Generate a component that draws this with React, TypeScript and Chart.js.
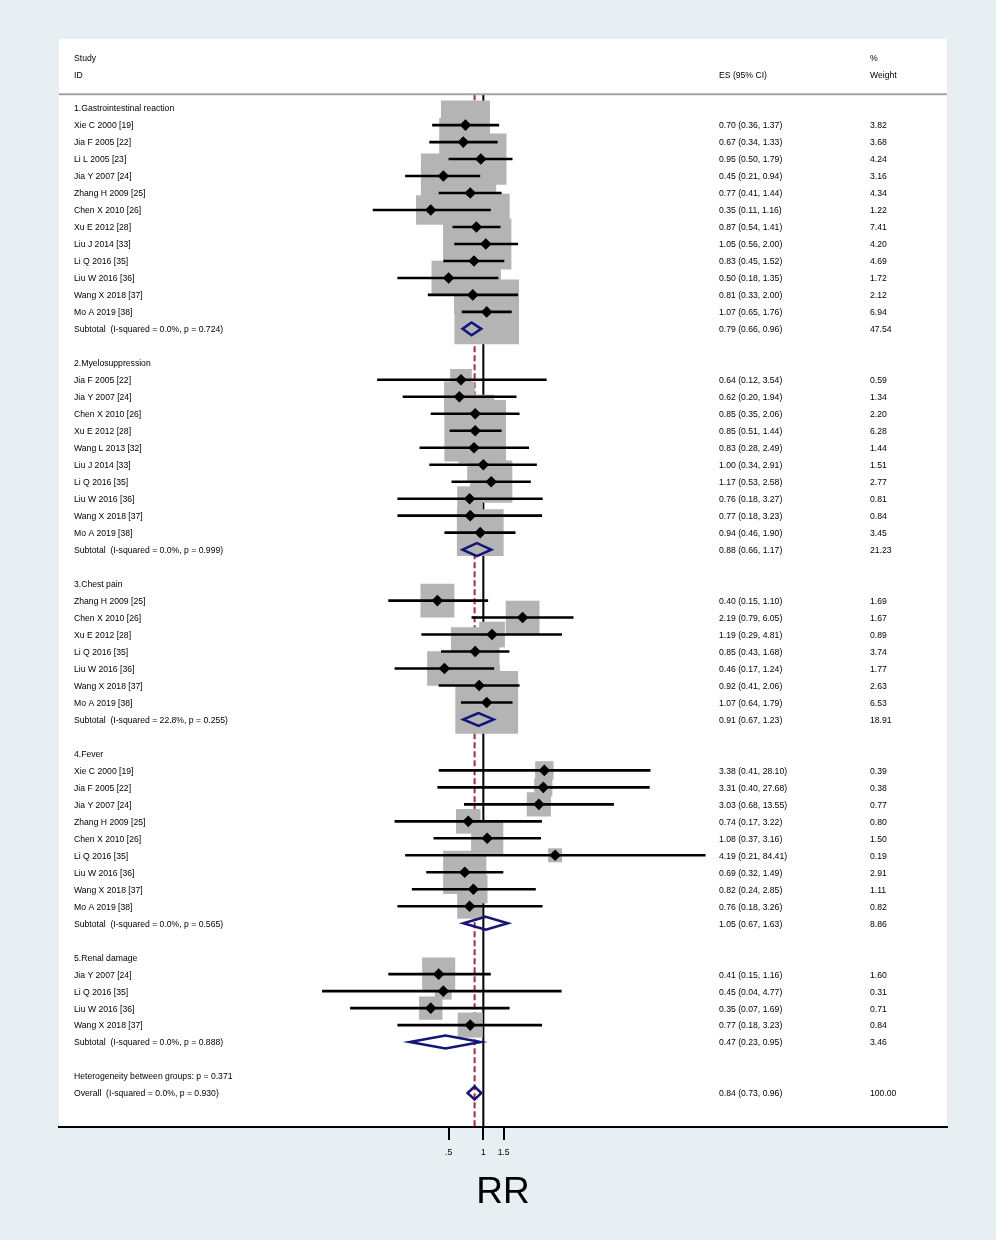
import React, { useEffect, useRef } from "react";
import { Chart, registerables } from "chart.js";

Chart.register(...registerables);

// ---------------- data ----------------
const groupNames = [
  "1.Gastrointestinal reaction",
  "2.Myelosuppression",
  "3.Chest pain",
  "4.Fever",
  "5.Renal damage",
];

const studyNames = [
  "Xie C 2000 [19]", "Jia F 2005 [22]", "Li L 2005 [23]", "Jia Y 2007 [24]", "Zhang H 2009 [25]", "Chen X 2010 [26]",
  "Xu E 2012 [28]", "Liu J 2014 [33]", "Li Q 2016 [35]", "Liu W 2016 [36]", "Wang X 2018 [37]", "Mo A 2019 [38]",
  "Jia F 2005 [22]", "Jia Y 2007 [24]", "Chen X 2010 [26]", "Xu E 2012 [28]", "Wang L 2013 [32]", "Liu J 2014 [33]",
  "Li Q 2016 [35]", "Liu W 2016 [36]", "Wang X 2018 [37]", "Mo A 2019 [38]",
  "Zhang H 2009 [25]", "Chen X 2010 [26]", "Xu E 2012 [28]", "Li Q 2016 [35]", "Liu W 2016 [36]", "Wang X 2018 [37]", "Mo A 2019 [38]",
  "Xie C 2000 [19]", "Jia F 2005 [22]", "Jia Y 2007 [24]", "Zhang H 2009 [25]", "Chen X 2010 [26]", "Li Q 2016 [35]",
  "Liu W 2016 [36]", "Wang X 2018 [37]", "Mo A 2019 [38]",
  "Jia Y 2007 [24]", "Li Q 2016 [35]", "Liu W 2016 [36]", "Wang X 2018 [37]",
];

const studyGroup = [
  0, 0, 0, 0, 0, 0, 0, 0, 0, 0, 0, 0,
  1, 1, 1, 1, 1, 1, 1, 1, 1, 1,
  2, 2, 2, 2, 2, 2, 2,
  3, 3, 3, 3, 3, 3, 3, 3, 3,
  4, 4, 4, 4,
];

const studyES = [
  0.70, 0.67, 0.95, 0.45, 0.77, 0.35, 0.87, 1.05, 0.83, 0.50, 0.81, 1.07,
  0.64, 0.62, 0.85, 0.85, 0.83, 1.00, 1.17, 0.76, 0.77, 0.94,
  0.40, 2.19, 1.19, 0.85, 0.46, 0.92, 1.07,
  3.38, 3.31, 3.03, 0.74, 1.08, 4.19, 0.69, 0.82, 0.76,
  0.41, 0.45, 0.35, 0.77,
];

const studyLo = [
  0.36, 0.34, 0.50, 0.21, 0.41, 0.11, 0.54, 0.56, 0.45, 0.18, 0.33, 0.65,
  0.12, 0.20, 0.35, 0.51, 0.28, 0.34, 0.53, 0.18, 0.18, 0.46,
  0.15, 0.79, 0.29, 0.43, 0.17, 0.41, 0.64,
  0.41, 0.40, 0.68, 0.17, 0.37, 0.21, 0.32, 0.24, 0.18,
  0.15, 0.04, 0.07, 0.18,
];

const studyHi = [
  1.37, 1.33, 1.79, 0.94, 1.44, 1.16, 1.41, 2.00, 1.52, 1.35, 2.00, 1.76,
  3.54, 1.94, 2.06, 1.44, 2.49, 2.91, 2.58, 3.27, 3.23, 1.90,
  1.10, 6.05, 4.81, 1.68, 1.24, 2.06, 1.79,
  28.10, 27.68, 13.55, 3.22, 3.16, 84.41, 1.49, 2.85, 3.26,
  1.16, 4.77, 1.69, 3.23,
];

const studyWeight = [
  3.82, 3.68, 4.24, 3.16, 4.34, 1.22, 7.41, 4.20, 4.69, 1.72, 2.12, 6.94,
  0.59, 1.34, 2.20, 6.28, 1.44, 1.51, 2.77, 0.81, 0.84, 3.45,
  1.69, 1.67, 0.89, 3.74, 1.77, 2.63, 6.53,
  0.39, 0.38, 0.77, 0.80, 1.50, 0.19, 2.91, 1.11, 0.82,
  1.60, 0.31, 0.71, 0.84,
];

const subES = [0.79, 0.88, 0.91, 1.05, 0.47];
const subLo = [0.66, 0.66, 0.67, 0.67, 0.23];
const subHi = [0.96, 1.17, 1.23, 1.63, 0.95];
const subWeight = [47.54, 21.23, 18.91, 8.86, 3.46];
const subI2 = [0.0, 0.0, 22.8, 0.0, 0.0];
const subP = [0.724, 0.999, 0.255, 0.565, 0.888];

const heterogeneityP = 0.371;
const overallES = 0.84;
const overallLo = 0.73;
const overallHi = 0.96;
const overallI2 = 0.0;
const overallP = 0.93;
const overallWeight = 100.0;

const xTickValues = [0.5, 1, 1.5];
const xTickLabels = [".5", "1", "1.5"];
const xTitle = "RR";

// ---------------- styles / layout ----------------
const FONT = '"Liberation Sans", Arial, Helvetica, sans-serif';
const TEXT_SIZE = 8.65;
const TEXT_DY = 1;
const BG = "#e8eff2";
const BOX_COLOR = "#b4b4b4";
const NAVY = "#14147a";
const DASH_RED = "#a8283c";
const COL_STUDY = 74;
const COL_ES = 719;
const COL_W = 870;
const X_MIN = Math.exp(-8.47);
const X_MAX = Math.exp(9.255);
const Y_MIN = -4.07;
const HEADER_RULE = -0.82;
const DIAMOND_H = 0.38;

const boxSide = (w: number) => 4 + 23 * Math.sqrt(w);

// row assignment from data order
const studyRow: number[] = [];
const groupRow: number[] = [];
const subRow: number[] = [];
let rc = 0;
groupNames.forEach((_, gi) => {
  groupRow[gi] = rc++;
  studyNames.forEach((_, i) => {
    if (studyGroup[i] === gi) studyRow[i] = rc++;
  });
  subRow[gi] = rc++;
  rc++;
});
const hetRow = rc++;
const overallRow = rc++;
const Y_MAX = overallRow + 2;

const f2 = (v: number) => v.toFixed(2);
const esText = (e: number, l: number, h: number) => `${f2(e)} (${f2(l)}, ${f2(h)})`;

function diamond(es: number, lo: number, hi: number, row: number) {
  return [
    { x: lo, y: row },
    { x: es, y: row - DIAMOND_H },
    { x: hi, y: row },
    { x: es, y: row + DIAMOND_H },
    { x: lo, y: row },
    { x: es, y: row - DIAMOND_H },
  ];
}

export default function App() {
  const ref = useRef<HTMLCanvasElement | null>(null);

  useEffect(() => {
    if (!ref.current) return;

    const datasets: any[] = [];
    datasets.push({
      data: [{ x: 1, y: HEADER_RULE }, { x: 1, y: Y_MAX }],
      showLine: true, borderColor: "#000", borderWidth: 2, pointRadius: 0, order: 20,
    });
    datasets.push({
      data: [{ x: overallES, y: HEADER_RULE }, { x: overallES, y: Y_MAX }],
      showLine: true, borderColor: DASH_RED, borderWidth: 2, borderDash: [6, 3], pointRadius: 0, order: 19,
    });
    datasets.push({
      data: [{ x: X_MIN, y: HEADER_RULE }, { x: X_MAX, y: HEADER_RULE }],
      showLine: true, borderColor: "#a4a4a4", borderWidth: 2, pointRadius: 0, order: 18,
    });
    datasets.push({
      data: studyES.map((e, i) => ({ x: e, y: studyRow[i] })),
      pointStyle: "rect",
      pointRadius: (c: any) => boxSide(studyWeight[c.dataIndex]) / Math.SQRT2,
      backgroundColor: BOX_COLOR, borderWidth: 0, order: 17,
    });
    studyES.forEach((_, i) => {
      datasets.push({
        data: [{ x: studyLo[i], y: studyRow[i] }, { x: studyHi[i], y: studyRow[i] }],
        showLine: true, borderColor: "#000", borderWidth: 2.6, pointRadius: 0, order: 10,
      });
    });
    datasets.push({
      data: studyES.map((e, i) => ({ x: e, y: studyRow[i] })),
      pointStyle: "rectRot", pointRadius: 5.8, backgroundColor: "#000", borderWidth: 0, order: 5,
    });
    subES.forEach((e, gi) => {
      datasets.push({
        data: diamond(e, subLo[gi], subHi[gi], subRow[gi]),
        showLine: true, borderColor: NAVY, borderWidth: 2.5, borderJoinStyle: "miter",
        pointRadius: 0, fill: false, order: 2,
      });
    });
    datasets.push({
      data: diamond(overallES, overallLo, overallHi, overallRow),
      showLine: true, borderColor: NAVY, borderWidth: 2.5, borderJoinStyle: "miter",
      pointRadius: 0, fill: false, order: 1,
    });

    const bgPlugin = {
      id: "panelBg",
      beforeDraw(chart: any) {
        const { ctx, chartArea: a, width, height } = chart;
        ctx.save();
        ctx.fillStyle = BG;
        ctx.fillRect(0, 0, width, height);
        ctx.fillStyle = "#fff";
        ctx.fillRect(a.left, a.top, a.right - a.left, a.bottom - a.top);
        ctx.restore();
      },
    };

    const textPlugin = {
      id: "forestText",
      afterDraw(chart: any) {
        const { ctx } = chart;
        const ys = chart.scales.y;
        const Y = (r: number) => ys.getPixelForValue(r) + TEXT_DY;
        ctx.save();
        ctx.fillStyle = "#000";
        ctx.font = `${TEXT_SIZE}px ${FONT}`;
        ctx.textBaseline = "middle";
        ctx.textAlign = "left";
        const put = (t: string, x: number, r: number) => ctx.fillText(t, x, Y(r));
        put("Study", COL_STUDY, -3);
        put("ID", COL_STUDY, -2);
        put("ES (95% CI)", COL_ES, -2);
        put("%", COL_W, -3);
        put("Weight", COL_W, -2);
        groupNames.forEach((g, gi) => {
          put(g, COL_STUDY, groupRow[gi]);
          put(`Subtotal  (I-squared = ${subI2[gi].toFixed(1)}%, p = ${subP[gi].toFixed(3)})`, COL_STUDY, subRow[gi]);
          put(esText(subES[gi], subLo[gi], subHi[gi]), COL_ES, subRow[gi]);
          put(f2(subWeight[gi]), COL_W, subRow[gi]);
        });
        studyNames.forEach((n, i) => {
          put(n, COL_STUDY, studyRow[i]);
          put(esText(studyES[i], studyLo[i], studyHi[i]), COL_ES, studyRow[i]);
          put(f2(studyWeight[i]), COL_W, studyRow[i]);
        });
        put(`Heterogeneity between groups: p = ${heterogeneityP.toFixed(3)}`, COL_STUDY, hetRow);
        put(`Overall  (I-squared = ${overallI2.toFixed(1)}%, p = ${overallP.toFixed(3)})`, COL_STUDY, overallRow);
        put(esText(overallES, overallLo, overallHi), COL_ES, overallRow);
        put(f2(overallWeight), COL_W, overallRow);
        ctx.restore();
      },
    };

    const chart = new Chart(ref.current, {
      type: "scatter",
      data: { datasets },
      options: {
        responsive: false,
        animation: false,
        events: [],
        layout: { padding: { left: 59, right: 49, top: 39, bottom: 0 }, autoPadding: false },
        plugins: { legend: { display: false }, tooltip: { enabled: false } },
        scales: {
          x: {
            type: "logarithmic",
            min: X_MIN,
            max: X_MAX,
            afterBuildTicks: (s: any) => {
              s.ticks = xTickValues.map((v) => ({ value: v }));
            },
            afterFit: (s: any) => {
              s.height = 113;
            },
            grid: {
              display: true, drawOnChartArea: false, drawTicks: true, tickLength: 13,
              color: "#000", lineWidth: 2,
            },
            border: { display: true, color: "#000", width: 2 },
            ticks: {
              autoSkip: false, maxRotation: 0, padding: 7, color: "#000",
              font: { family: FONT, size: TEXT_SIZE },
              callback: (v: any) => {
                const k = xTickValues.indexOf(Number(v));
                return k >= 0 ? xTickLabels[k] : "";
              },
            },
            title: {
              display: true, text: xTitle, color: "#000",
              font: { family: FONT, size: 37 },
              padding: { top: 0, bottom: 25 },
            },
          },
          y: { type: "linear", min: Y_MIN, max: Y_MAX, reverse: true, display: false },
        },
      } as any,
      plugins: [bgPlugin, textPlugin],
    });
    return () => chart.destroy();
  }, []);

  return (
    <div style={{ position: "absolute", left: 0, top: 0, width: 996, height: 1240, background: BG }}>
      <canvas ref={ref} width={996} height={1240} style={{ display: "block" }} />
    </div>
  );
}
